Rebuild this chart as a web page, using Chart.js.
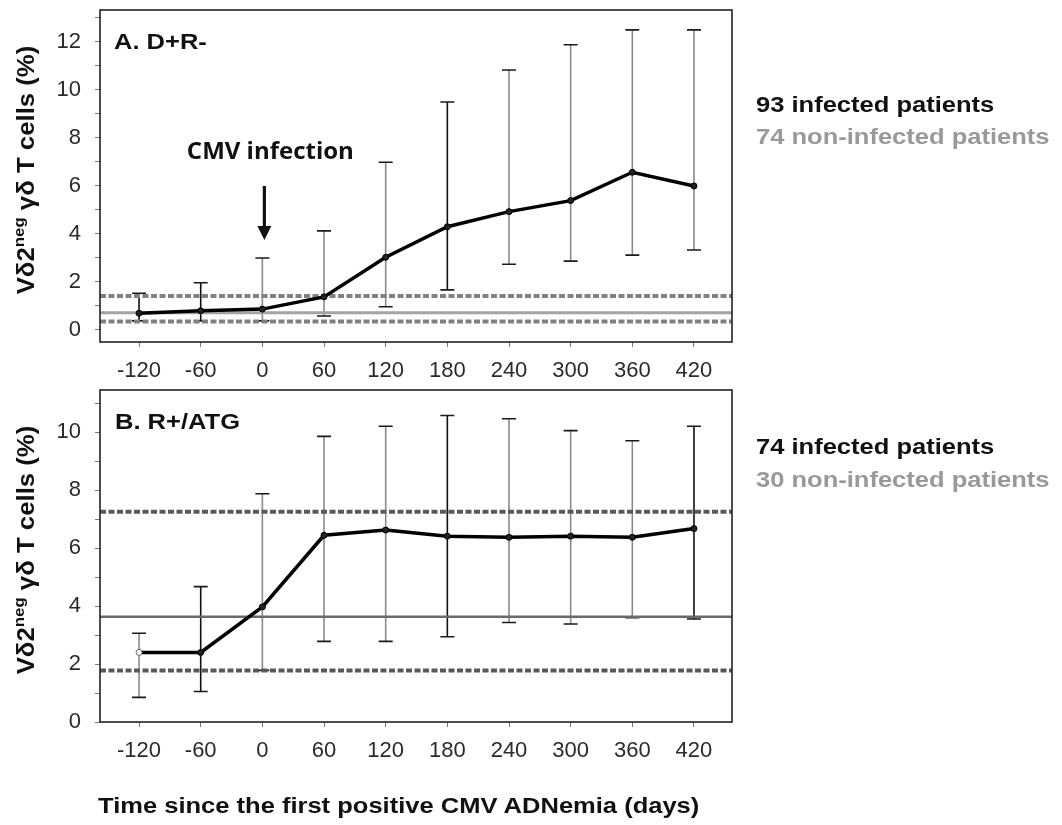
<!DOCTYPE html>
<html><head><meta charset="utf-8">
<script src="https://cdn.jsdelivr.net/npm/chart.js@4.4.1/dist/chart.umd.min.js"></script>
<style>
body{margin:0;background:#fff;width:1062px;height:825px;position:relative;overflow:hidden;font-family:"Liberation Sans",Arial,sans-serif}
.c{position:absolute;left:0;width:1062px}
.txt{position:absolute;font-weight:bold;font-size:22px;white-space:nowrap;line-height:1;transform:scaleX(1.16);transform-origin:0 50%}
</style></head><body>
<div class="c" style="top:0;height:390px"><canvas id="a"></canvas></div>
<div class="c" style="top:380px;height:445px"><canvas id="b"></canvas></div>
<div class="txt" style="left:114px;top:31px;color:#111">A. D+R-</div>
<div class="txt" style="left:115px;top:411px;color:#111">B. R+/ATG</div>
<div class="txt" style="left:756px;top:94px;color:#111">93 infected patients</div>
<div class="txt" style="left:756px;top:126px;color:#999">74 non-infected patients</div>
<div class="txt" style="left:756px;top:436px;color:#111">74 infected patients</div>
<div class="txt" style="left:756px;top:469px;color:#999">30 non-infected patients</div>
<div class="txt" style="left:98px;top:795px;color:#111">Time since the first positive CMV ADNemia (days)</div>
<script>
// ---- data ----
const days = [-120, -60, 0, 60, 120, 180, 240, 300, 360, 420];
const meanA = [0.70, 0.80, 0.87, 1.38, 3.03, 4.30, 4.93, 5.39, 6.57, 6.00];
const lowA  = [0.38, 0.38, 0.38, 0.58, 0.97, 1.67, 2.74, 2.87, 3.12, 3.33];
const highA = [1.53, 1.97, 3.00, 4.13, 6.99, 9.50, 10.83, 11.88, 12.50, 12.50];
const refA  = [1.42, 0.72, 0.35];   // non-infected: upper, median, lower
const meanB = [2.40, 2.40, 3.97, 6.44, 6.62, 6.41, 6.37, 6.41, 6.37, 6.67];
const lowB  = [0.85, 1.05, 1.78, 2.78, 2.78, 2.94, 3.43, 3.38, 3.60, 3.55];
const highB = [3.06, 4.67, 7.87, 9.85, 10.20, 10.57, 10.46, 10.05, 9.70, 10.20];
const refB  = [7.25, 3.63, 1.78];
const yLabelsA = [0, 2, 4, 6, 8, 10, 12];
const yLabelsB = [0, 2, 4, 6, 8, 10];
const yTitleMain = "Vδ2", yTitleSup = "neg", yTitleRest = " γδ T cells (%)";
const annotText = "CMV infection";

// ---- styles ----
const barColA = ['#111','#111','#8a8a8a','#8a8a8a','#8a8a8a','#111','#8a8a8a','#8a8a8a','#8a8a8a','#8a8a8a'];
const barColB = ['#8a8a8a','#111','#8a8a8a','#8a8a8a','#8a8a8a','#111','#8a8a8a','#8a8a8a','#8a8a8a','#111'];
const ptFillB = ['#fff','#222','#222','#222','#222','#222','#222','#222','#222','#222'];
const ptLineB = ['#666','#000','#000','#000','#000','#000','#000','#000','#000','#000'];
const X_MIN = -158, X_MAX = 457;
const tickColor = '#2b2b2b';
const FONT = '"Liberation Sans", Arial, sans-serif';

function refDatasets(ref, dashCol, solidCol, solidW) {
  const mk = (v, col, w, dash) => ({
    data: [{x: X_MIN, y: v}, {x: X_MAX, y: v}],
    borderColor: col, borderWidth: w, borderDash: dash, pointRadius: 0, order: 5
  });
  return [mk(ref[0], dashCol, 4, [6, 2.5]), mk(ref[1], solidCol, solidW, []), mk(ref[2], dashCol, 4, [6, 2.5])];
}

const framePlugin = {
  id: 'frame',
  beforeDatasetsDraw(chart, args, opts) {
    const {ctx, scales: {x, y}} = chart;
    ctx.save();
    opts.low.forEach((lo, i) => {
      const px = x.getPixelForValue(opts.xs[i]);
      const p1 = y.getPixelForValue(lo), p2 = y.getPixelForValue(opts.high[i]);
      ctx.strokeStyle = opts.colors[i]; ctx.lineWidth = 1.6;
      ctx.beginPath(); ctx.moveTo(px, p1); ctx.lineTo(px, p2); ctx.stroke();
      ctx.strokeStyle = '#1a1a1a'; ctx.lineWidth = 1.6;
      ctx.beginPath(); ctx.moveTo(px - 7, p1); ctx.lineTo(px + 7, p1);
      ctx.moveTo(px - 7, p2); ctx.lineTo(px + 7, p2); ctx.stroke();
    });
    ctx.restore();
  },
  afterDraw(chart, args, opts) {
    const {ctx, chartArea: a, scales: {x, y}} = chart;
    ctx.save();
    ctx.strokeStyle = '#222'; ctx.lineWidth = 1.6;
    ctx.strokeRect(a.left, a.top, a.right - a.left, a.bottom - a.top);
    // y axis title
    const cx = 25, cy = (a.top + a.bottom) / 2 - 6;
    ctx.translate(cx, cy); ctx.rotate(-Math.PI / 2); ctx.scale(1.12, 1);
    ctx.fillStyle = '#111'; ctx.textBaseline = 'alphabetic';
    const fMain = 'bold 23px ' + FONT, fSup = 'bold 15px ' + FONT;
    ctx.font = fMain; const w1 = ctx.measureText(yTitleMain).width, w3 = ctx.measureText(yTitleRest).width;
    ctx.font = fSup; const w2 = ctx.measureText(yTitleSup).width;
    let sx = -(w1 + w2 + w3) / 2;
    ctx.font = fMain; ctx.fillText(yTitleMain, sx, 9);
    ctx.font = fSup; ctx.fillText(yTitleSup, sx + w1, -1);
    ctx.font = fMain; ctx.fillText(yTitleRest, sx + w1 + w2, 9);
    ctx.restore();
    if (opts.annot) {
      ctx.save();
      const ax = x.getPixelForValue(0);
      ctx.fillStyle = '#111';
      ctx.font = 'bold 24px "Open Sans", sans-serif';
      ctx.textAlign = 'center'; ctx.textBaseline = 'middle';
      ctx.fillText(annotText, ax + 8, y.getPixelForValue(7.4));
      const yTop = y.getPixelForValue(6.0), yTip = y.getPixelForValue(3.75);
      ctx.strokeStyle = '#111'; ctx.lineWidth = 3.2;
      ctx.beginPath(); ctx.moveTo(ax + 2, yTop); ctx.lineTo(ax + 2, yTip - 10); ctx.stroke();
      ctx.beginPath(); ctx.moveTo(ax + 2 - 7, yTip - 14); ctx.lineTo(ax + 2, yTip); ctx.lineTo(ax + 2 + 7, yTip - 14); ctx.closePath(); ctx.fill();
      ctx.restore();
    }
  }
};

function zeroPad(s) { s.paddingTop = 0; s.paddingBottom = 0; s.paddingLeft = 0; s.paddingRight = 0; }

function makeChart(id, mean, low, high, ref, yMin, yMax, yLabels, barCols, dashCol, solidCol, solidW, annot, padBottom, ptFill, ptLine) {
  return new Chart(document.getElementById(id), {
    type: 'line',
    data: {
      datasets: [
        {data: days.map((d, i) => ({x: d, y: mean[i]})), borderColor: '#000', borderWidth: 3.5,
         pointRadius: 3, pointBackgroundColor: ptFill || '#222', pointBorderColor: ptLine || '#000', pointBorderWidth: 1, order: 1},
        ...refDatasets(ref, dashCol, solidCol, solidW)
      ]
    },
    options: {
      responsive: true, maintainAspectRatio: false, animation: false,
      layout: {padding: {left: 40, right: 330, top: 10, bottom: padBottom}},
      plugins: {legend: {display: false}, tooltip: {enabled: false},
        frame: {xs: days, low, high, colors: barCols, annot}},
      scales: {
        x: {type: 'linear', min: X_MIN, max: X_MAX,
          afterBuildTicks: s => { s.ticks = days.map(v => ({value: v})); },
          afterFit: s => { s.height = 40; zeroPad(s); },
          border: {display: false},
          grid: {drawOnChartArea: false, drawTicks: true, tickLength: 5, color: '#777'},
          ticks: {font: {family: FONT, size: 22}, color: tickColor, padding: 11, maxRotation: 0, autoSkip: false}},
        y: {type: 'linear', min: yMin, max: yMax,
          afterBuildTicks: s => { const t = []; for (let v = Math.ceil(yMin); v <= yMax; v++) t.push({value: v}); s.ticks = t; },
          afterFit: s => { s.width = 60; zeroPad(s); },
          border: {display: false},
          grid: {drawOnChartArea: false, drawTicks: true, tickLength: 5, color: '#777'},
          ticks: {font: {family: FONT, size: 22}, color: tickColor, padding: 14, autoSkip: false,
            callback: v => yLabels.includes(v) ? String(v) : ''}}
      }
    },
    plugins: [framePlugin]
  });
}

makeChart('a', meanA, lowA, highA, refA, -0.5, 13.33, yLabelsA, barColA, '#808080', '#a3a3a3', 3, true, 8);
makeChart('b', meanB, lowB, highB, refB, 0, 11.45, yLabelsB, barColB, '#595959', '#6a6a6a', 2.5, false, 63, ptFillB, ptLineB);
</script>
</body></html>
